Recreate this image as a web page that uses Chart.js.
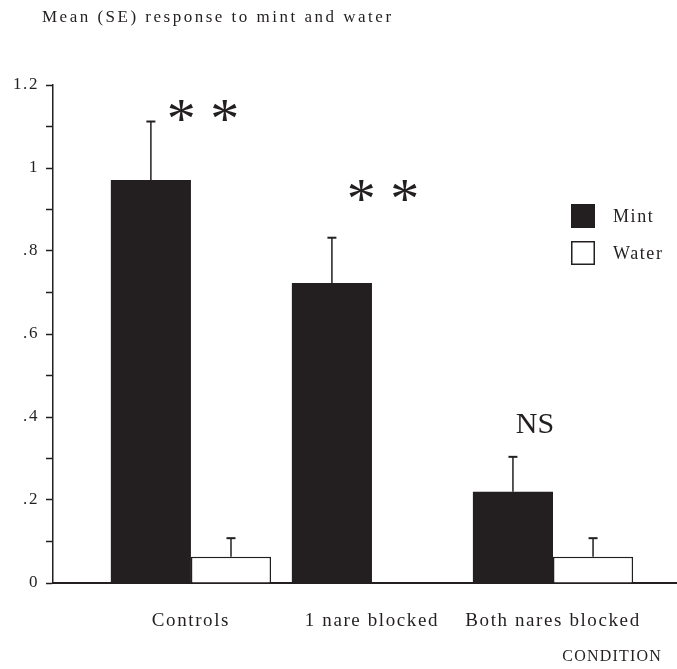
<!DOCTYPE html>
<html>
<head>
<meta charset="utf-8">
<script src="https://cdn.jsdelivr.net/npm/chart.js@4.4.1/dist/chart.umd.min.js"></script>
<style>
  html, body { margin: 0; padding: 0; background: #fff; }
  #wrap { width: 677px; height: 669px; position: relative; }
</style>
</head>
<body>
<div id="wrap"><canvas id="c"></canvas></div>
<script>
// ---- data ----
const categories = ['Controls', '1 nare blocked', 'Both nares blocked'];
const mintMean  = [0.971, 0.723, 0.220];
const mintSE    = [0.141, 0.109, 0.084];
const waterMean = [0.063, 0.000, 0.063];
const waterSE   = [0.045, 0.000, 0.045];
const sigLabels = ['* *', '* *', 'NS'];
const yTickLabels = {0: '0', 0.2: '.2', 0.4: '.4', 0.6: '.6', 0.8: '.8', 1: '1', 1.2: '1.2'};
const titleText = 'Mean (SE) response to mint and water';
const xAxisTitle = 'CONDITION';

const SERIF = '"Liberation Serif", "DejaVu Serif", serif';
const INK = '#231f20';

const pts = (arr) => arr.map((v, i) => ({x: i + 1, y: v}));

const spacing = {
  id: 'spacing',
  beforeDraw(chart) { chart.ctx.letterSpacing = '1.6px'; }
};

const errorBars = {
  id: 'errorBars',
  afterDatasetsDraw(chart) {
    const ctx = chart.ctx;
    const y = chart.scales.y;
    const seSets = [mintSE, waterSE];
    ctx.save();
    ctx.strokeStyle = INK;
    chart.data.datasets.forEach((ds, di) => {
      const meta = chart.getDatasetMeta(di);
      meta.data.forEach((bar, i) => {
        const se = seSets[di][i];
        if (!se) return;
        const yTop = y.getPixelForValue(ds.data[i].y + se);
        const yBase = bar.y;
        ctx.lineWidth = 1.5;
        ctx.beginPath();
        ctx.moveTo(bar.x, yBase);
        ctx.lineTo(bar.x, yTop);
        ctx.stroke();
        ctx.lineWidth = 2;
        ctx.beginPath();
        ctx.moveTo(bar.x - 4.5, yTop);
        ctx.lineTo(bar.x + 4.5, yTop);
        ctx.stroke();
      });
    });
    ctx.restore();
  }
};

const extras = {
  id: 'extras',
  afterDraw(chart) {
    const ctx = chart.ctx;
    const xs = chart.scales.x, ys = chart.scales.y;
    ctx.save();
    ctx.fillStyle = INK;
    // title
    ctx.letterSpacing = '2.5px';
    ctx.font = '17px ' + SERIF;
    ctx.textAlign = 'left';
    ctx.textBaseline = 'middle';
    ctx.fillText(titleText, 42, 18);
    // x axis title
    ctx.letterSpacing = '1.2px';
    ctx.font = '16px ' + SERIF;
    ctx.textAlign = 'right';
    ctx.fillText(xAxisTitle, 662, 657);
    // significance labels
    ctx.letterSpacing = '0px';
    const offs = [[12, 12, 58], [11, 48, 58], [-18, 32, 30]];
    sigLabels.forEach((lab, i) => {
      const top = mintMean[i] + mintSE[i];
      const px = xs.getPixelForValue(i + 1) + offs[i][0];
      const py = ys.getPixelForValue(top) - offs[i][1];
      ctx.font = offs[i][2] + 'px ' + SERIF;
      ctx.textAlign = 'center';
      ctx.textBaseline = 'middle';
      ctx.fillText(lab, px, lab === 'NS' ? py : py + offs[i][2] * 0.22);
    });
    // legend
    const items = [{label: 'Mint', fill: INK}, {label: 'Water', fill: '#ffffff'}];
    ctx.letterSpacing = '1.6px';
    items.forEach((it, k) => {
      const bx = 571, by = 204 + k * 37;
      ctx.fillStyle = it.fill;
      ctx.fillRect(bx, by, 24, 24);
      ctx.strokeStyle = INK;
      ctx.lineWidth = 1.5;
      ctx.strokeRect(bx + 0.75, by + 0.75, 22.5, 22.5);
      ctx.fillStyle = INK;
      ctx.font = '18px ' + SERIF;
      ctx.textAlign = 'left';
      ctx.textBaseline = 'middle';
      ctx.fillText(it.label, 613, by + 13);
    });
    ctx.restore();
    ctx.letterSpacing = '0px';
  }
};

new Chart(document.getElementById('c'), {
  type: 'bar',
  data: {
    datasets: [
      {label: 'Mint', data: pts(mintMean), backgroundColor: INK, borderColor: INK, borderWidth: 0,
       categoryPercentage: 0.885, barPercentage: 1.0},
      {label: 'Water', data: pts(waterMean), backgroundColor: '#ffffff', borderColor: INK, borderWidth: 1.5,
       categoryPercentage: 0.885, barPercentage: 1.0}
    ]
  },
  options: {
    responsive: true,
    maintainAspectRatio: false,
    animation: false,
    devicePixelRatio: 1,
    layout: { padding: { left: 0, right: 0, top: 85, bottom: 0 } },
    plugins: { legend: { display: false }, title: { display: false }, tooltip: { enabled: false } },
    scales: {
      x: {
        type: 'linear',
        offset: false,
        min: 0.238,
        max: 3.685,
        afterBuildTicks: (s) => { s.ticks = categories.map((c, i) => ({value: i + 1})); },
        afterFit: (s) => { s.height = 86; },
        grid: { display: false, drawOnChartArea: false, drawTicks: true, tickLength: 5, tickColor: INK, tickWidth: 1.5 },
        border: { display: true, color: INK, width: 2 },
        ticks: {
          autoSkip: false, maxRotation: 0, padding: 22,
          color: INK, font: { family: SERIF, size: 19 },
          callback: (v) => categories[Math.round(v) - 1] || ''
        }
      },
      y: {
        min: 0,
        max: 1.2,
        afterBuildTicks: (s) => {
          const t = [];
          for (let i = 0; i <= 12; i++) t.push({value: i / 10});
          s.ticks = t;
        },
        afterFit: (s) => { s.width = 53; },
        grid: { drawOnChartArea: false, drawTicks: true, tickLength: 7, tickColor: INK, tickWidth: 1.5 },
        border: { display: true, color: INK, width: 1.5 },
        ticks: {
          autoSkip: false, padding: 7,
          color: INK, font: { family: SERIF, size: 17 },
          callback: (v) => {
            const k = Math.round(v * 10) / 10;
            return yTickLabels[k] !== undefined ? yTickLabels[k] : '';
          }
        }
      }
    }
  },
  plugins: [spacing, errorBars, extras]
});
</script>
</body>
</html>
